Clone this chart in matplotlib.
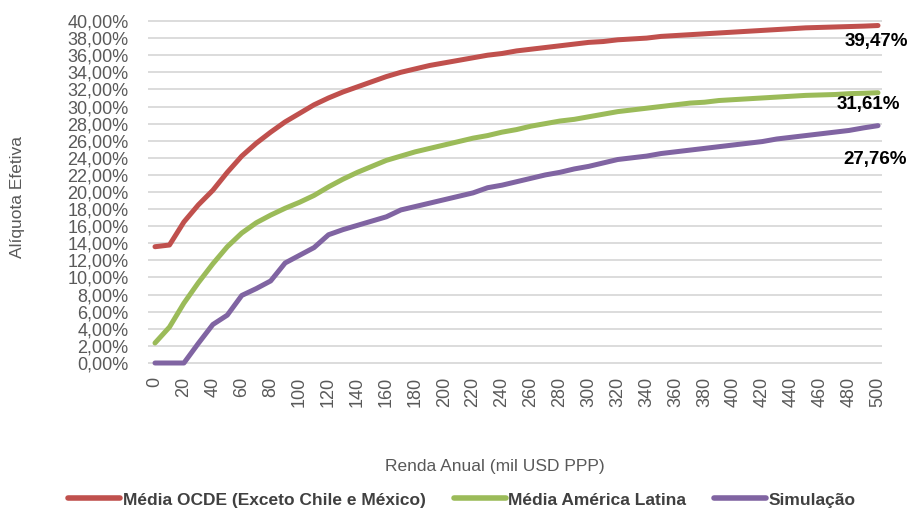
import numpy as np
import matplotlib
matplotlib.use("Agg")
import matplotlib.pyplot as plt

renda = list(range(0, 501, 10))
ocde = [13.6, 13.8, 16.5, 18.5, 20.2, 22.3, 24.2, 25.7, 27.0, 28.2,
        29.2, 30.2, 31.0, 31.7, 32.3, 32.9, 33.5, 34.0, 34.4, 34.8,
        35.1, 35.4, 35.7, 36.0, 36.2, 36.5, 36.7, 36.9, 37.1, 37.3,
        37.5, 37.6, 37.8, 37.9, 38.0, 38.2, 38.3, 38.4, 38.5, 38.6,
        38.7, 38.8, 38.9, 39.0, 39.1, 39.2, 39.25, 39.3, 39.35, 39.4, 39.47]
america_latina = [2.34, 4.2, 7.0, 9.4, 11.6, 13.6, 15.2, 16.4, 17.3, 18.1,
                  18.8, 19.6, 20.6, 21.5, 22.3, 23.0, 23.7, 24.2, 24.7, 25.1,
                  25.5, 25.9, 26.3, 26.6, 27.0, 27.3, 27.7, 28.0, 28.3, 28.5,
                  28.8, 29.1, 29.4, 29.6, 29.8, 30.0, 30.2, 30.4, 30.5, 30.7,
                  30.8, 30.9, 31.0, 31.1, 31.2, 31.3, 31.35, 31.4, 31.5, 31.55, 31.61]
simulacao = [0.0, 0.0, 0.0, 2.3, 4.5, 5.6, 7.9, 8.7, 9.6, 11.7,
             12.6, 13.5, 15.0, 15.6, 16.1, 16.6, 17.1, 17.9, 18.3, 18.7,
             19.1, 19.5, 19.9, 20.5, 20.8, 21.2, 21.6, 22.0, 22.3, 22.7,
             23.0, 23.4, 23.8, 24.0, 24.2, 24.5, 24.7, 24.9, 25.1, 25.3,
             25.5, 25.7, 25.9, 26.2, 26.4, 26.6, 26.8, 27.0, 27.2, 27.5, 27.76]
series_names = ["Média OCDE (Exceto Chile e México)", "Média América Latina", "Simulação"]
colors = ["#C0504D", "#9BBB59", "#8064A2"]
end_labels = ["39,47%", "31,61%", "27,76%"]
xticks = list(range(0, 501, 20))
yticks = list(range(0, 41, 2))

plt.rcParams['font.family'] = ['Liberation Sans', 'DejaVu Sans']

W, H = 910, 511
fig = plt.figure(figsize=(W / 100, H / 100), dpi=100)

# axes geometry in pixels
px_left, px_right = 148, 882
x0_px, x500_px = 155, 878
y0_px, y40_px = 363, 21
xs = (x500_px - x0_px) / 500.0
ys = (y0_px - y40_px) / 40.0
xmin = -(x0_px - px_left) / xs
xmax = 500 + (px_right - x500_px) / xs
ext = 0.5
bot_px = y0_px + ext * ys
top_px = y40_px - ext * ys
ax = fig.add_axes([px_left / W, 1 - bot_px / H, (px_right - px_left) / W, (bot_px - top_px) / H])
ax.set_xlim(xmin, xmax)
ax.set_ylim(-ext, 40 + ext)

for v in yticks:
    ax.axhline(v, color="#D9D9D9", lw=1.3, zorder=1)

data = [ocde, america_latina, simulacao]
lines = []
for vals, c, name in zip(data, colors, series_names):
    ln, = ax.plot(renda, vals, color=c, lw=3.6, solid_capstyle='round', solid_joinstyle='round',
                  label=name, zorder=3)
    lines.append(ln)

for s in ax.spines.values():
    s.set_visible(False)

ax.set_yticks(yticks)
ax.set_yticklabels([f"{v:.2f}".replace(".", ",") + "%" for v in yticks])
ax.set_xticks(xticks)
ax.set_xticklabels([str(v) for v in xticks], rotation=90)
ax.tick_params(axis='y', length=0, pad=14, labelsize=13, labelcolor="#595959")
ax.tick_params(axis='x', length=0, pad=7, labelsize=13, labelcolor="#595959")

# end labels
offsets = [(-1, -1.9), (-7, -1.43), (-2, -4.0)]
for vals, lab, (dx, dy) in zip(data, end_labels, offsets):
    ax.text(500 + dx, vals[-1] + dy, lab, fontsize=13.5, fontweight='bold', color="#000000",
            ha='center', va='center', clip_on=False)

fig.text(18 / W, 1 - 197 / H, "Alíquota Efetiva", rotation=90, ha='center', va='center',
         fontsize=12.5, color="#595959")
fig.text(495 / W, 1 - 466 / H, "Renda Anual (mil USD PPP)", ha='center', va='center',
         fontsize=12.5, color="#595959")

leg = fig.legend(handles=lines, labels=series_names, loc='center', bbox_to_anchor=(462 / W, 1 - 500 / H),
                 ncol=3, frameon=False, fontsize=12.5, handlelength=3.0, handletextpad=0.15,
                 columnspacing=1.6, borderaxespad=0)
for t in leg.get_texts():
    t.set_fontweight('bold')
    t.set_color("#404040")
for l in leg.get_lines():
    l.set_linewidth(4)

fig.savefig("out.png", dpi=100)
